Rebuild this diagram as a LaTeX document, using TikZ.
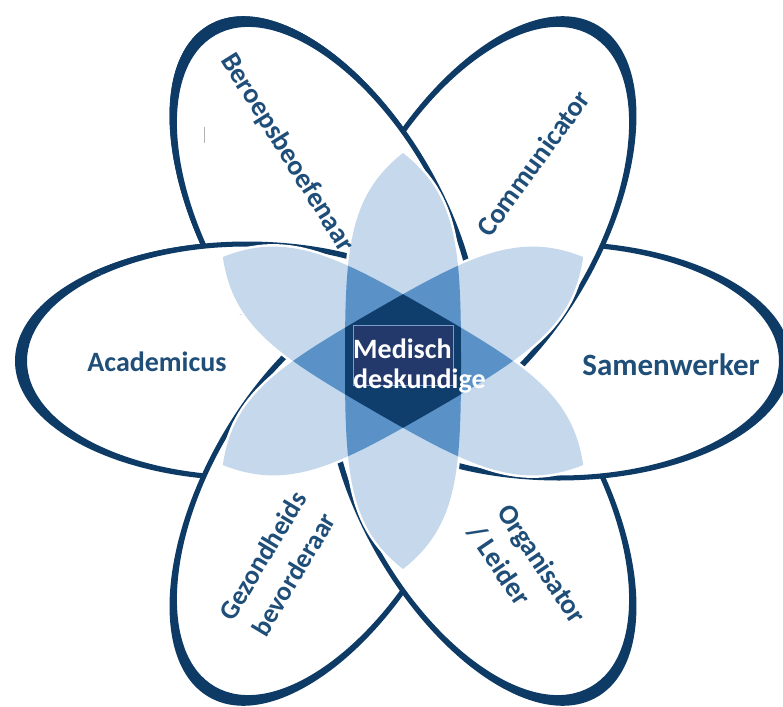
\documentclass[tikz,border=0pt]{standalone}
\usepackage{fontspec}
\setmainfont{Carlito}
\definecolor{rim}{HTML}{0D3B66}
\definecolor{labtxt}{HTML}{1F4E79}
\definecolor{lenslight}{HTML}{C5D8EC}
\definecolor{lensmed}{HTML}{5A91C6}
\definecolor{lensdark}{HTML}{0F3E6D}
\definecolor{boxfill}{HTML}{24396B}
\definecolor{boxedge}{HTML}{7A9CCB}
\begin{document}
\begin{tikzpicture}[x=1bp,y=-1bp]
\useasboundingbox (0,0) rectangle (783,707);
\def\lens{(208,0) .. controls (165,55) and (110,58) .. (0,58) .. controls (-110,58) and (-165,55) .. (-208,0) .. controls (-165,-55) and (-110,-58) .. (0,-58) .. controls (110,-58) and (165,-55) .. (208,0) -- cycle}
\def\petalfill{(0,0) ellipse [x radius=226,y radius=117]}
\def\petalrim{(0,0) ellipse [x radius=232,y radius=119.5] (0,0) ellipse [x radius=220,y radius=114.5]}
\tikzset{
 Lv/.style={shift={(403,361)},rotate=90},
 Lp/.style={shift={(403,361)},rotate=30},
 Lm/.style={shift={(403,361)},rotate=-30},
 P/.style={shift={(403,361)},rotate=#1,shift={(156,0)}},
 lab/.style={text=labtxt,font=\bfseries\fontsize{28bp}{36bp}\selectfont,inner sep=0pt},
}
\newcommand\drawpetal[1]{%
 \fill[white,P=#1] \petalfill;
 \fill[rim,even odd rule,P=#1] \petalrim;}
% petals: each one lies over its clockwise neighbour
\drawpetal{120}
\drawpetal{180}
\drawpetal{240}
\drawpetal{300}
\drawpetal{0}
\drawpetal{60}
\begin{scope}
 \clip (403,361) -- (1000,-57) -- (1000,-400) -- (-400,-400) -- (-400,130) -- cycle;
 \drawpetal{120}
 \drawpetal{180}
\end{scope}
\draw[gray!60,line width=0.8bp] (204,127) -- (204,143);
% lenses
\draw[white,line width=5bp,Lv] \lens;
\draw[white,line width=5bp,Lp] \lens;
\draw[white,line width=5bp,Lm] \lens;
\fill[lenslight,Lv] \lens;
\fill[lenslight,Lp] \lens;
\fill[lenslight,Lm] \lens;
\begin{scope}
 \clip[Lv] \lens;
 \fill[lensmed,Lp] \lens;
 \fill[lensmed,Lm] \lens;
\end{scope}
\begin{scope}
 \clip[Lp] \lens;
 \fill[lensmed,Lm] \lens;
\end{scope}
\begin{scope}
 \clip[Lv] \lens;
 \clip[Lp] \lens;
 \fill[lensdark,Lm] \lens;
\end{scope}
% centre box
\node[draw=boxedge,fill=boxfill,line width=0.6bp,minimum width=100bp,minimum height=60bp,inner sep=0pt] (box) at (403.5,355.5) {};
\node[anchor=west,align=left,text=white,font=\bfseries\fontsize{28bp}{30bp}\selectfont,inner sep=0pt] (md) at (353,366) {Medisch\\deskundige};
% labels
\node[lab] (acad) at (157,362) {Academicus};
\node[lab,font=\bfseries\fontsize{31bp}{36bp}\selectfont] (samen) at (671,365) {Samenwerker};
\node[lab,rotate=-58] (beroeps) at (287,153) {Beroepsbeoefenaar};
\node[lab,rotate=54] (comm) at (533,163) {Communicator};
\node[lab,rotate=59,align=center,font=\bfseries\fontsize{27bp}{36bp}\selectfont] (gezond) at (278,565) {Gezondheids\\bevorderaar};
\node[lab,rotate=-56,align=left] (organ) at (527,574) {Organisator\\/ Leider};
\end{tikzpicture}
\end{document}
